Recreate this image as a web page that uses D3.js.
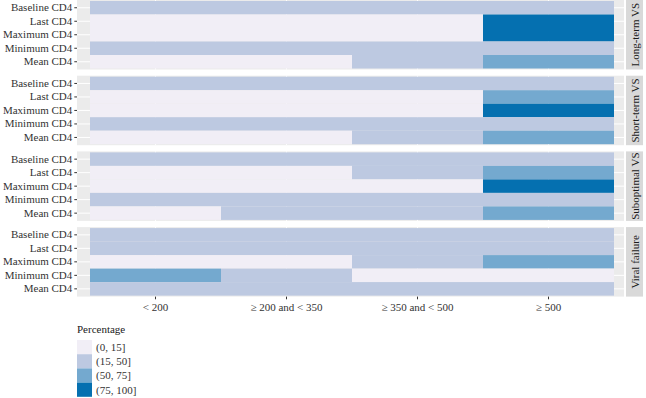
<!DOCTYPE html>
<html>
<head>
<meta charset="utf-8">
<script src="https://cdn.jsdelivr.net/npm/d3@7"></script>
<style>
  html, body { margin: 0; padding: 0; background: #fff; }
  svg { display: block; }
</style>
</head>
<body>
<svg id="chart" width="646" height="398"></svg>
<script>
// ---- Data ----
const groups = ["Long-term VS", "Short-term VS", "Suboptimal VS", "Viral failure"];
const measures = ["Baseline CD4", "Last CD4", "Maximum CD4", "Minimum CD4", "Mean CD4"];
const cd4Categories = ["< 200", "≥ 200 and < 350", "≥ 350 and < 500", "≥ 500"];
const percentageBins = ["(0, 15]", "(15, 50]", "(50, 75]", "(75, 100]"];
const binColors = ["#f1eef6", "#bdc9e1", "#74a9cf", "#0570b0"];

// Percentage bin for each measure (rows) x CD4 category (columns)
const longTermVS = [
  ["(15, 50]", "(15, 50]", "(15, 50]", "(15, 50]"],
  ["(0, 15]",  "(0, 15]",  "(0, 15]",  "(75, 100]"],
  ["(0, 15]",  "(0, 15]",  "(0, 15]",  "(75, 100]"],
  ["(15, 50]", "(15, 50]", "(15, 50]", "(15, 50]"],
  ["(0, 15]",  "(0, 15]",  "(15, 50]", "(50, 75]"]
];
const shortTermVS = [
  ["(15, 50]", "(15, 50]", "(15, 50]", "(15, 50]"],
  ["(0, 15]",  "(0, 15]",  "(0, 15]",  "(50, 75]"],
  ["(0, 15]",  "(0, 15]",  "(0, 15]",  "(75, 100]"],
  ["(15, 50]", "(15, 50]", "(15, 50]", "(15, 50]"],
  ["(0, 15]",  "(0, 15]",  "(15, 50]", "(50, 75]"]
];
const suboptimalVS = [
  ["(15, 50]", "(15, 50]", "(15, 50]", "(15, 50]"],
  ["(0, 15]",  "(0, 15]",  "(15, 50]", "(50, 75]"],
  ["(0, 15]",  "(0, 15]",  "(0, 15]",  "(75, 100]"],
  ["(15, 50]", "(15, 50]", "(15, 50]", "(15, 50]"],
  ["(0, 15]",  "(15, 50]", "(15, 50]", "(50, 75]"]
];
const viralFailure = [
  ["(15, 50]", "(15, 50]", "(15, 50]", "(15, 50]"],
  ["(15, 50]", "(15, 50]", "(15, 50]", "(15, 50]"],
  ["(0, 15]",  "(0, 15]",  "(15, 50]", "(50, 75]"],
  ["(50, 75]", "(15, 50]", "(0, 15]",  "(0, 15]"],
  ["(15, 50]", "(15, 50]", "(15, 50]", "(15, 50]"]
];
const groupData = [longTermVS, shortTermVS, suboptimalVS, viralFailure];

// ---- Layout ----
const svg = d3.select("#chart");
const FONT = '"Liberation Serif", "Times New Roman", serif';
const panelLeft = 77, panelRight = 624;
const tileLeft = 90, tileRight = 614;
const panelTop0 = 0, panelH = 69.5, panelGap = 6.2;
const stripX = 626, stripW = 17;
const fontSize = 11;

const x = d3.scaleBand().domain(cd4Categories).range([tileLeft, tileRight]).padding(0);
const color = d3.scaleOrdinal().domain(percentageBins).range(binColors);

groups.forEach((g, gi) => {
  const top = panelTop0 + gi * (panelH + panelGap);
  const y = d3.scaleBand().domain(measures).range([top + 1, top + panelH - 1]).padding(0);
  const panel = svg.append("g");

  panel.append("rect")
    .attr("x", panelLeft).attr("y", top)
    .attr("width", panelRight - panelLeft).attr("height", panelH)
    .attr("fill", "#ebebeb");

  panel.selectAll("line.hg").data(measures).join("line")
    .attr("x1", panelLeft).attr("x2", panelRight)
    .attr("y1", d => y(d) + y.bandwidth() / 2).attr("y2", d => y(d) + y.bandwidth() / 2)
    .attr("stroke", "#fff").attr("stroke-width", 1);
  panel.selectAll("line.vg").data(cd4Categories).join("line")
    .attr("y1", top).attr("y2", top + panelH)
    .attr("x1", d => x(d) + x.bandwidth() / 2).attr("x2", d => x(d) + x.bandwidth() / 2)
    .attr("stroke", "#fff").attr("stroke-width", 1);

  const cells = [];
  groupData[gi].forEach((row, ri) => row.forEach((bin, ci) => {
    cells.push({ measure: measures[ri], cat: cd4Categories[ci], bin });
  }));
  panel.selectAll("rect.tile").data(cells).join("rect")
    .attr("x", d => x(d.cat)).attr("y", d => y(d.measure))
    .attr("width", x.bandwidth()).attr("height", y.bandwidth())
    .attr("fill", d => color(d.bin));

  const yAxis = d3.axisLeft(y).tickSize(2.7).tickPadding(2);
  const ya = svg.append("g").attr("transform", `translate(${panelLeft},0)`).call(yAxis)
    .attr("font-family", FONT).attr("font-size", fontSize);
  ya.select(".domain").remove();
  ya.selectAll("line").attr("stroke", "#333");
  ya.selectAll("text").attr("fill", "#333");

  svg.append("rect").attr("x", stripX).attr("y", top).attr("width", stripW).attr("height", panelH)
    .attr("fill", "#d9d9d9");
  svg.append("text")
    .attr("transform", `translate(${stripX + stripW / 2 + 4},${top + panelH / 2}) rotate(-90)`)
    .attr("text-anchor", "middle").attr("fill", "#1a1a1a")
    .attr("font-family", FONT).attr("font-size", fontSize).text(g);

  if (gi === groups.length - 1) {
    const xAxis = d3.axisBottom(x).tickSize(2.7).tickPadding(4);
    const xa = svg.append("g").attr("transform", `translate(0,${top + panelH})`).call(xAxis)
      .attr("font-family", FONT).attr("font-size", fontSize);
    xa.select(".domain").remove();
    xa.selectAll("line").attr("stroke", "#333");
    xa.selectAll("text").attr("fill", "#333");
  }
});

// ---- Legend ----
const legX = 77, legY = 340, keyW = 15, keyH = 14.2;
svg.append("text").attr("x", legX).attr("y", 333).attr("fill", "#1a1a1a")
  .attr("font-family", FONT).attr("font-size", fontSize).text("Percentage");
const leg = svg.append("g");
leg.selectAll("rect").data(percentageBins).join("rect")
  .attr("x", legX).attr("y", (d, i) => legY + i * keyH)
  .attr("width", keyW).attr("height", keyH)
  .attr("fill", d => color(d));
leg.selectAll("text").data(percentageBins).join("text")
  .attr("x", legX + keyW + 4).attr("y", (d, i) => legY + i * keyH + keyH / 2)
  .attr("dy", "0.35em").attr("fill", "#333")
  .attr("font-family", FONT).attr("font-size", fontSize).text(d => d);
</script>
</body>
</html>
